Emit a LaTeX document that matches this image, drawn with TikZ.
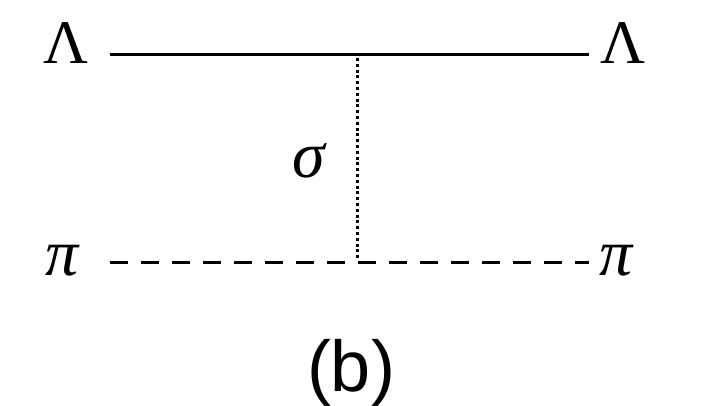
\documentclass[tikz,border=0pt]{standalone}
\usepackage{fontspec}
\setmainfont{Liberation Sans}
\newfontfamily\grk{Liberation Serif}
\begin{document}
\begin{tikzpicture}[x=1pt,y=-1pt,
  lbl/.style={anchor=base,inner sep=0pt,font=\grk\fontsize{62}{62}\selectfont},
  ilbl/.style={anchor=base,inner sep=0pt,font=\grk\itshape\fontsize{66}{66}\selectfont},
  solidline/.style={line width=3pt},
  dashline/.style={line width=3pt,dash pattern=on 18pt off 13pt},
  dotline/.style={line width=3pt,dash pattern=on 3pt off 2.8pt}]
\useasboundingbox (0,0) rectangle (720,405);
\node[lbl] (L1) at (66,63) {Λ};
\node[lbl] (L2) at (623,63) {Λ};
\node[ilbl] (P1) at (62,275) {π};
\node[ilbl] (P2) at (616,275) {π};
\node[ilbl] (S) at (309,177) {σ};
\node[anchor=base,inner sep=0pt,font=\fontsize{72}{72}\selectfont] (cap) at (351,391) {(b)};
\coordinate (a1) at (110,54);
\coordinate (a2) at (589,54);
\coordinate (b1) at (110,262);
\coordinate (b2) at (589,262);
\coordinate (v1) at (357,58);
\coordinate (v2) at (357,260);
\draw[solidline] (a1) -- (a2);
\draw[dashline] (b1) -- (b2);
\draw[dotline] (v1) -- (v2);
\end{tikzpicture}
\end{document}
